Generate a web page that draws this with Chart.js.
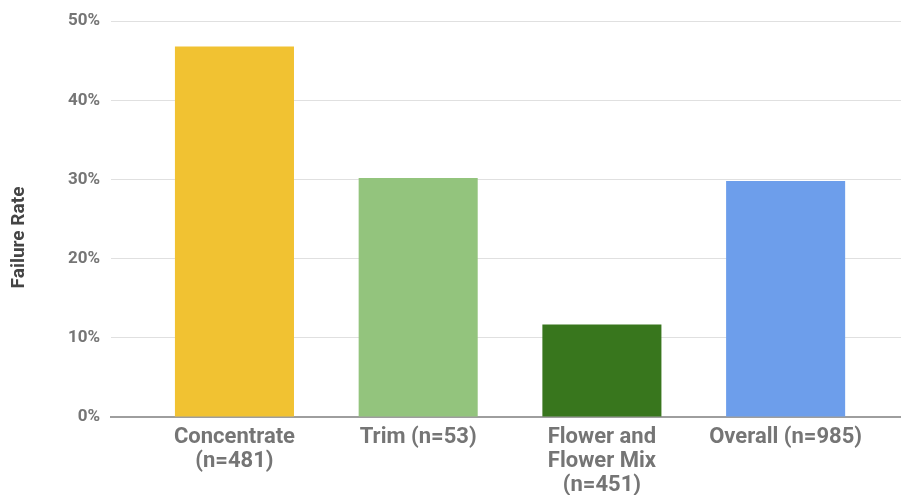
<!DOCTYPE html>
<html>
<head>
<meta charset="utf-8">
<script src="https://cdn.jsdelivr.net/npm/chart.js@4/dist/chart.umd.min.js"></script>
<style>
  html, body { margin: 0; padding: 0; background: #ffffff; }
  #wrap { width: 901px; height: 495px; position: relative; }
</style>
</head>
<body>
<div id="wrap"><canvas id="c"></canvas></div>
<script>
// Product categories (multi-line labels) and their failure rates in percent
const categories = [
  ["Concentrate", "(n=481)"],
  ["Trim (n=53)"],
  ["Flower and", "Flower Mix", "(n=451)"],
  ["Overall (n=985)"]
];
const failureRate = [46.8, 30.2, 11.7, 29.8];
const barColors = ["#F1C232", "#93C47D", "#38761D", "#6D9EEB"];
const yTicks = [0, 10, 20, 30, 40, 50];
const yTitle = "Failure Rate";

// Vertical axis title, centred on the full canvas height
const axisTitle = {
  id: "axisTitle",
  afterDraw(chart) {
    const ctx = chart.ctx;
    ctx.save();
    ctx.translate(19, chart.height / 2 - 10);
    ctx.rotate(-Math.PI / 2);
    ctx.font = "bold 19px Roboto";
    ctx.fillStyle = "#444444";
    ctx.textAlign = "center";
    ctx.textBaseline = "middle";
    ctx.fillText(yTitle, 0, 0);
    ctx.restore();
  }
};

new Chart(document.getElementById("c"), {
  type: "bar",
  data: {
    datasets: [{
      data: failureRate.map((v, i) => ({ x: i, y: v })),
      backgroundColor: barColors,
      borderWidth: 0,
      barPercentage: 0.648,
      categoryPercentage: 1
    }]
  },
  options: {
    responsive: true,
    maintainAspectRatio: false,
    animation: false,
    layout: { padding: { top: 18, right: 0, left: 0, bottom: 0 } },
    plugins: { legend: { display: false }, tooltip: { enabled: false } },
    scales: {
      x: {
        type: "linear",
        offset: false,
        min: -0.672,
        max: 3.628,
        afterBuildTicks(scale) {
          scale.ticks = categories.map((_, i) => ({ value: i }));
        },
        afterFit(scale) { scale.height = 78; },
        grid: { display: false, drawTicks: false },
        border: { display: true, color: "#9e9e9e", width: 2 },
        ticks: {
          autoSkip: false,
          maxRotation: 0,
          padding: 9,
          color: "#757575",
          font: { family: "Roboto", weight: "bold", size: 22, lineHeight: 1.09 },
          callback: (v) => categories[v]
        }
      },
      y: {
        min: 0,
        max: 50,
        afterBuildTicks(scale) {
          scale.ticks = yTicks.map(v => ({ value: v }));
        },
        afterFit(scale) { scale.width = 111; },
        grid: { color: "#e0e0e0", lineWidth: 1, drawTicks: false },
        border: { display: false },
        ticks: {
          padding: 11,
          color: "#757575",
          font: { family: "Roboto", weight: "bold", size: 17 },
          callback: (v) => v + "%"
        }
      }
    }
  },
  plugins: [axisTitle]
});
</script>
</body>
</html>
